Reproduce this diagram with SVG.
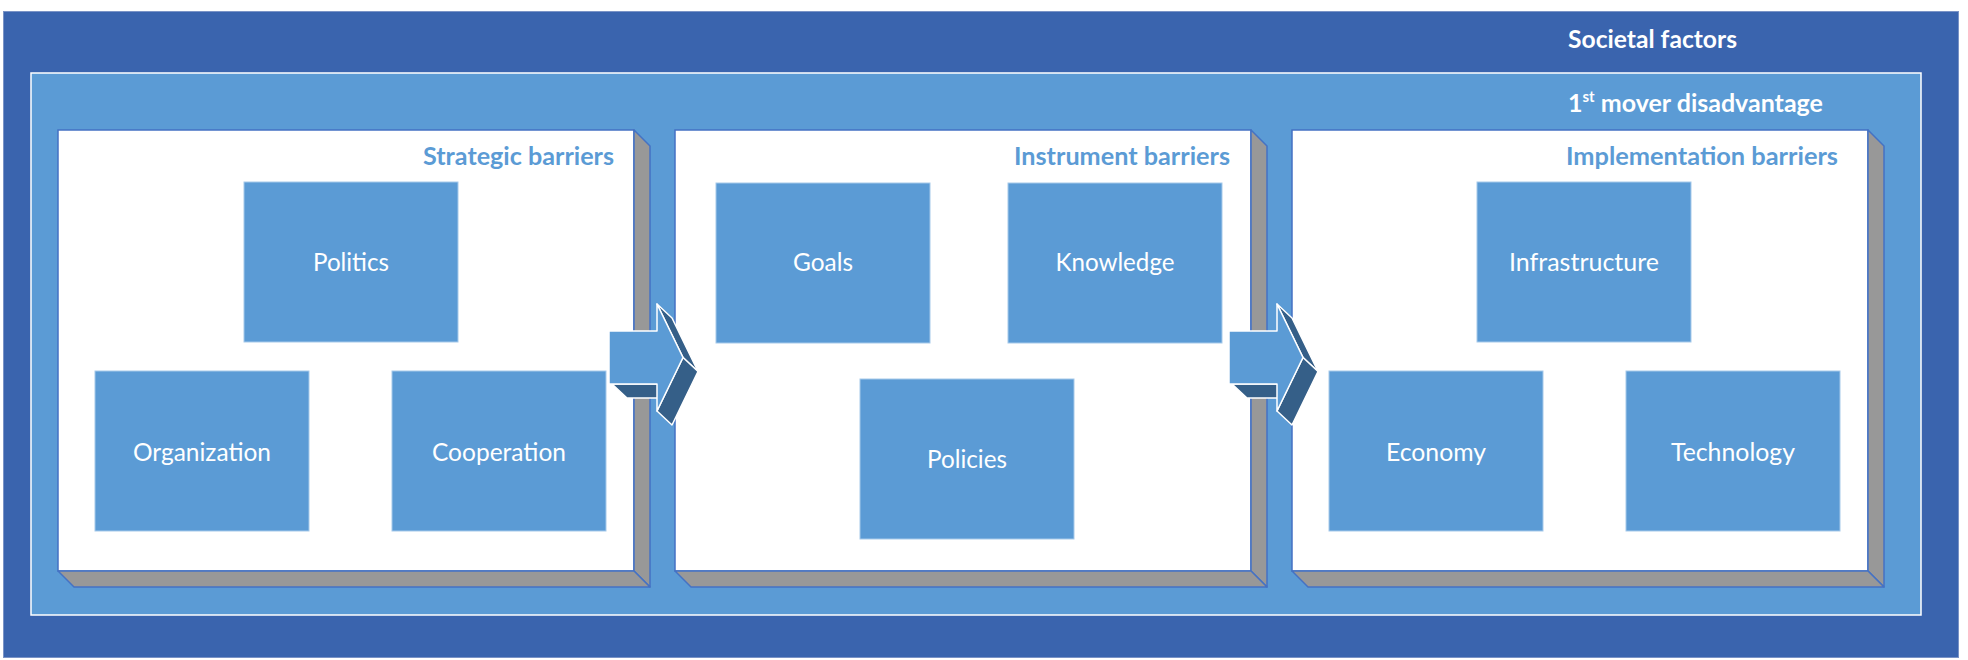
<svg xmlns="http://www.w3.org/2000/svg" width="1968" height="660" viewBox="0 0 1968 660">
  <style>
    .box { fill: #5B9BD5; stroke: #A6C9EA; stroke-width: 1; }
    .lbl { font-family: Lato, "Liberation Sans", sans-serif; font-size: 25px; fill: #ffffff; text-anchor: middle; }
    .ttl { font-family: Lato, "Liberation Sans", sans-serif; font-size: 25px; font-weight: bold; fill: #5B9BD5; }
    .wt { font-family: Lato, "Liberation Sans", sans-serif; font-size: 25px; font-weight: bold; fill: #ffffff; }
    .panel { fill: #ffffff; stroke: #4472C4; stroke-width: 1.5; }
    .side { fill: #989898; stroke: #4472C4; stroke-width: 1.5; stroke-linejoin: round; }
    .afront { fill: #5B9BD5; stroke: #ffffff; stroke-width: 1.5; stroke-linejoin: round; }
    .aside { fill: #355F88; stroke: #ffffff; stroke-width: 1.5; stroke-linejoin: round; }
  </style>
  <defs>
    <g id="panelShape">
      <rect class="panel" x="0" y="0" width="576" height="441"/>
      <polygon class="side" points="576,0 592,16 592,457 576,441"/>
      <polygon class="side" points="0,441 576,441 592,457 16,457"/>
    </g>
    <g id="arrowShape">
      <polygon class="aside" points="612,384 657,384 672,398 627,398"/>
      <polygon class="aside" points="657,304 672,318 698,371.5 683,357.5"/>
      <polygon class="aside" points="683,357.5 698,371.5 672,425 657,411"/>
      <path class="afront" d="M609,331 H657 V304 L683,357.5 L657,411 V384 H609 Z"/>
    </g>
  </defs>

  <g id="societal-factors">
    <rect x="3.5" y="11.5" width="1955" height="646" fill="#3A64AE" stroke="#7A93C6" stroke-width="1"/>
    <text class="wt" x="1568" y="48" textLength="169" lengthAdjust="spacingAndGlyphs">Societal factors</text>
  </g>

  <g id="first-mover-disadvantage">
    <rect x="31" y="73" width="1890" height="542" fill="#5B9BD5" stroke="#ffffff" stroke-width="1.5"/>
    <text class="wt" x="1568" y="112">1<tspan font-size="15" dy="-10">st</tspan><tspan dy="10"> mover disadvantage</tspan></text>
  </g>

  <g id="strategic-barriers">
    <use href="#panelShape" x="58" y="130"/>
    <text class="ttl" x="423" y="165" textLength="191" lengthAdjust="spacingAndGlyphs">Strategic barriers</text>
  </g>
  <g id="instrument-barriers">
    <use href="#panelShape" x="675" y="130"/>
    <text class="ttl" x="1014" y="165" textLength="216" lengthAdjust="spacingAndGlyphs">Instrument barriers</text>
  </g>
  <g id="implementation-barriers">
    <use href="#panelShape" x="1292" y="130"/>
    <text class="ttl" x="1566" y="165" textLength="272" lengthAdjust="spacingAndGlyphs">Implementation barriers</text>
  </g>

  <g id="politics">
    <rect class="box" x="244" y="182" width="214" height="160"/>
    <text class="lbl" x="351" y="271" textLength="76" lengthAdjust="spacingAndGlyphs">Politics</text>
  </g>
  <g id="organization">
    <rect class="box" x="95" y="371" width="214" height="160"/>
    <text class="lbl" x="202" y="461" textLength="138" lengthAdjust="spacingAndGlyphs">Organization</text>
  </g>
  <g id="cooperation">
    <rect class="box" x="392" y="371" width="214" height="160"/>
    <text class="lbl" x="499" y="461" textLength="134" lengthAdjust="spacingAndGlyphs">Cooperation</text>
  </g>

  <g id="goals">
    <rect class="box" x="716" y="183" width="214" height="160"/>
    <text class="lbl" x="823" y="271" textLength="60" lengthAdjust="spacingAndGlyphs">Goals</text>
  </g>
  <g id="knowledge">
    <rect class="box" x="1008" y="183" width="214" height="160"/>
    <text class="lbl" x="1115" y="271" textLength="119" lengthAdjust="spacingAndGlyphs">Knowledge</text>
  </g>
  <g id="policies">
    <rect class="box" x="860" y="379" width="214" height="160"/>
    <text class="lbl" x="967" y="468" textLength="80" lengthAdjust="spacingAndGlyphs">Policies</text>
  </g>

  <g id="infrastructure">
    <rect class="box" x="1477" y="182" width="214" height="160"/>
    <text class="lbl" x="1584" y="271" textLength="150" lengthAdjust="spacingAndGlyphs">Infrastructure</text>
  </g>
  <g id="economy">
    <rect class="box" x="1329" y="371" width="214" height="160"/>
    <text class="lbl" x="1436" y="461" textLength="100" lengthAdjust="spacingAndGlyphs">Economy</text>
  </g>
  <g id="technology">
    <rect class="box" x="1626" y="371" width="214" height="160"/>
    <text class="lbl" x="1733" y="461" textLength="124" lengthAdjust="spacingAndGlyphs">Technology</text>
  </g>

  <g id="connectors">
    <use href="#arrowShape"/>
    <use href="#arrowShape" transform="translate(620,0)"/>
  </g>
</svg>
